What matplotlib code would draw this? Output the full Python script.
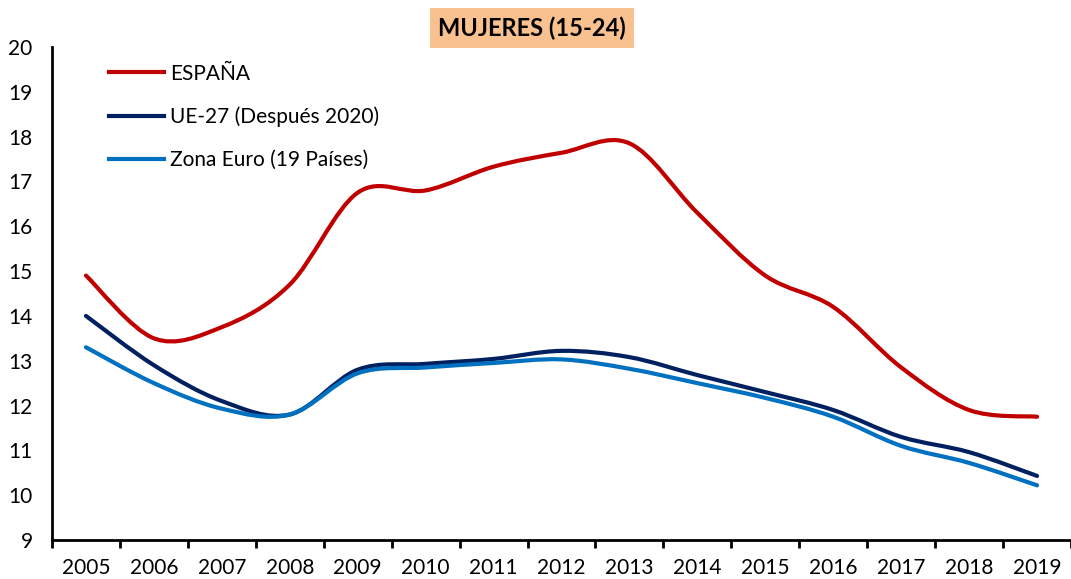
import numpy as np
import matplotlib
matplotlib.use("Agg")
import matplotlib.pyplot as plt
from matplotlib.path import Path
import matplotlib.patches as mps
from matplotlib.lines import Line2D

plt.rcParams['font.family'] = ['Lato', 'DejaVu Sans']

years = ['2005', '2006', '2007', '2008', '2009', '2010', '2011', '2012',
         '2013', '2014', '2015', '2016', '2017', '2018', '2019']

espana = [14.9, 13.5, 13.75, 14.7, 16.75, 16.8, 17.33, 17.64,
          17.85, 16.3, 14.9, 14.2, 12.85, 11.9, 11.75]
ue27 = [14.0, 12.9, 12.1, 11.8, 12.8, 12.93, 13.04, 13.22,
        13.08, 12.68, 12.3, 11.9, 11.3, 10.96, 10.43]
zona_euro = [13.3, 12.5, 11.93, 11.8, 12.72, 12.85, 12.95, 13.03,
             12.82, 12.5, 12.17, 11.75, 11.1, 10.72, 10.22]

series = [
    (espana, 'ESPAÑA', '#C00000'),
    (ue27, 'UE-27 (Después 2020)', '#002060'),
    (zona_euro, 'Zona Euro (19 Países)', '#0070C0'),
]


def smooth_path(xs, ys):
    # Excel-style smoothed line as cubic Bezier segments
    pts = np.column_stack([xs, ys]).astype(float)
    n = len(pts)
    verts = [pts[0]]
    codes = [Path.MOVETO]
    for i in range(n - 1):
        p0 = pts[i - 1] if i > 0 else pts[i]
        p1 = pts[i]
        p2 = pts[i + 1]
        p3 = pts[i + 2] if i + 2 < n else pts[i + 1]
        c1 = p1 + (p2 - p0) / 6.0
        c2 = p2 - (p3 - p1) / 6.0
        verts += [c1, c2, p2]
        codes += [Path.CURVE4] * 3
    return Path(verts, codes)


fig = plt.figure(figsize=(10.71, 5.79), dpi=100)
ax = fig.add_axes([52 / 1071, 39 / 579, 1019 / 1071, 493 / 579])

x = np.arange(len(years))
handles = []
for vals, label, color in series:
    p = mps.PathPatch(smooth_path(x, vals), fc='none', ec=color, lw=3.0,
                      capstyle='round', joinstyle='round')
    ax.add_patch(p)
    handles.append(Line2D([], [], color=color, lw=3.0, label=label))

ax.set_xlim(-0.5, len(years) - 0.5)
ax.set_ylim(9, 20)
ax.set_yticks(range(9, 21))
ax.set_xticks(x)
ax.set_xticklabels(years)
ax.set_xticks(np.arange(-0.5, len(years), 1.0), minor=True)
ax.tick_params(axis='x', which='major', length=0, labelsize=15, pad=13)
ax.tick_params(axis='x', which='minor', length=6, width=2, direction='out')
ax.tick_params(axis='y', length=0, labelsize=15, pad=14)

for s in ['top', 'right']:
    ax.spines[s].set_visible(False)
for s in ['left', 'bottom']:
    ax.spines[s].set_linewidth(2)
    ax.spines[s].set_color('black')

ax.legend(handles=handles, loc='upper left', bbox_to_anchor=(0.038, 1.004),
          frameon=False, fontsize=15, handlelength=2.6, handletextpad=0.3,
          labelspacing=1.1)

fig.text(532 / 1071, 1 - 28 / 579, 'MUJERES (15-24)', ha='center', va='center',
         fontsize=17, fontweight='bold',
         bbox=dict(boxstyle='square,pad=0.35', fc='#F9C18F', ec='none'))

fig.savefig('out.png', dpi=100)
